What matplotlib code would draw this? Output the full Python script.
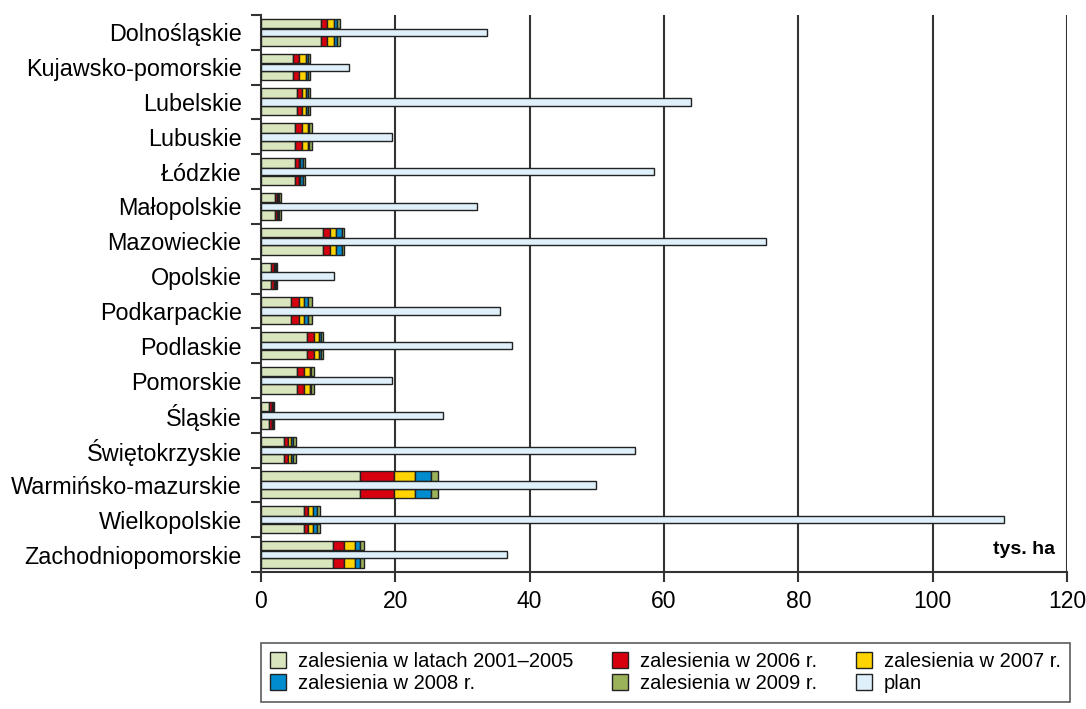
import matplotlib
matplotlib.use("Agg")
import matplotlib.pyplot as plt
from matplotlib.patches import Patch
import numpy as np

regions = ["Dolnośląskie", "Kujawsko-pomorskie", "Lubelskie", "Lubuskie", "Łódzkie",
           "Małopolskie", "Mazowieckie", "Opolskie", "Podkarpackie", "Podlaskie",
           "Pomorskie", "Śląskie", "Świętokrzyskie", "Warmińsko-mazurskie",
           "Wielkopolskie", "Zachodniopomorskie"]

z2001_2005 = [8.93, 4.82, 5.41, 5.11, 5.11, 2.08, 9.23, 1.49, 4.52, 6.80, 5.41, 1.19, 3.47, 14.74, 6.45, 10.67]
z2006 = [0.90, 0.89, 0.75, 1.05, 0.50, 0.25, 1.07, 0.45, 1.14, 1.04, 1.04, 0.40, 0.60, 5.01, 0.60, 1.63]
z2007 = [1.04, 1.04, 0.54, 0.79, 0.20, 0.20, 0.87, 0.19, 0.79, 0.85, 0.80, 0.10, 0.45, 3.22, 0.74, 1.65]
z2008 = [0.49, 0.30, 0.35, 0.25, 0.40, 0.20, 0.83, 0.15, 0.60, 0.29, 0.25, 0.10, 0.30, 2.29, 0.59, 0.79]
z2009 = [0.40, 0.30, 0.30, 0.44, 0.34, 0.25, 0.30, 0.15, 0.59, 0.30, 0.44, 0.10, 0.34, 1.04, 0.35, 0.59]
plan = [33.7, 13.1, 64.0, 19.45, 58.45, 32.1, 75.2, 10.9, 35.6, 37.3, 19.45, 27.1, 55.7, 49.9, 110.6, 36.7]

series = [
    ("zalesienia w latach 2001–2005", z2001_2005, "#d9e5bd"),
    ("zalesienia w 2006 r.", z2006, "#d7000f"),
    ("zalesienia w 2007 r.", z2007, "#ffd400"),
    ("zalesienia w 2008 r.", z2008, "#008ccf"),
    ("zalesienia w 2009 r.", z2009, "#9bb25a"),
]
plan_label = "plan"
plan_color = "#dff0fb"

plt.rcParams['font.family'] = ['Liberation Sans', 'DejaVu Sans']

fig = plt.figure(figsize=(10.86, 7.09), dpi=100)
ax = fig.add_axes([0.2403, 0.1932, 0.9825 - 0.2403, 0.9788 - 0.1932])

y = np.arange(len(regions))
edge = "#222222"
lw = 1.0
sh = 0.27
for off in (-0.255, 0.245):
    left = np.zeros(len(regions))
    for name, vals, col in series:
        v = np.array(vals)
        ax.barh(y + off, v, left=left, height=sh, color=col, edgecolor=edge, linewidth=lw, zorder=3)
        left += v
ax.barh(y, plan, height=0.21, color=plan_color, edgecolor=edge, linewidth=lw, zorder=4)

ax.set_xlim(0, 120)
ax.set_ylim(len(regions) - 0.5, -0.5)
ax.set_xticks(np.arange(0, 121, 20))
ax.set_yticks(y)
ax.set_yticklabels(regions)
ax.set_yticks(np.arange(-0.5, len(regions), 1), minor=True)
ax.tick_params(axis='y', which='major', length=0, pad=14, labelsize=16.8)
ax.tick_params(axis='y', which='minor', length=7, width=1.5, color="#333333")
ax.tick_params(axis='x', length=7, width=1.5, color="#333333", labelsize=16.5, pad=6)
for xv in range(20, 121, 20):
    ax.axvline(xv, color="#333333", linewidth=1.5, zorder=1)
for s in ("top", "right"):
    ax.spines[s].set_visible(False)
for s in ("left", "bottom"):
    ax.spines[s].set_linewidth(1.5)
    ax.spines[s].set_color("#333333")

ax.text(0.985, 0.04, "tys. ha", transform=ax.transAxes, ha="right", va="center",
        fontsize=14, fontweight="bold", zorder=6)

handles = []
labels = []
allser = series + [(plan_label, plan, plan_color)]
order = [0, 3, 1, 4, 2, 5]
for i in order:
    name, _, col = allser[i]
    handles.append(Patch(facecolor=col, edgecolor=edge, linewidth=1))
    labels.append(name)
leg = fig.legend(handles, labels, ncol=3, loc="upper left",
                 bbox_to_anchor=(261 / 1086, 1 - 707 / 709, (1070 - 261) / 1086, (707 - 643) / 709),
                 mode="expand", fontsize=14.5, frameon=True, fancybox=False,
                 handlelength=0.8, handleheight=0.8, handletextpad=0.6,
                 labelspacing=0.15, borderpad=0.45, columnspacing=1.0, borderaxespad=0)
leg.get_frame().set_edgecolor("#333333")
leg.get_frame().set_linewidth(1.2)

fig.savefig("out.png", dpi=100)
